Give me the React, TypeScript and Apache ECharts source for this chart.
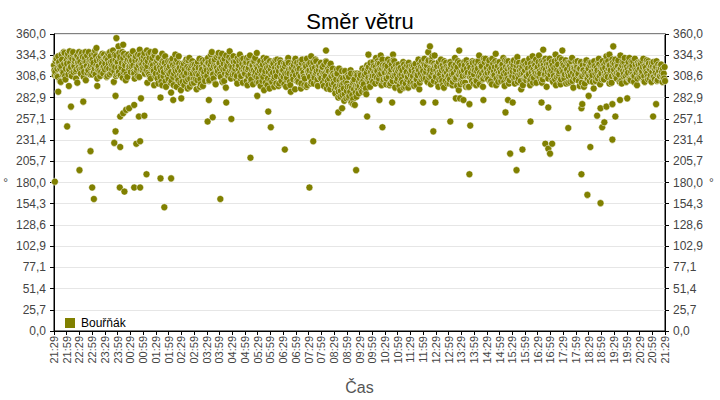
import React, { useEffect, useRef } from "react";
import * as echarts from "echarts";

// Time tick labels (every 30 minutes from 21:29 to 21:29 next day)
const timeLabels = [
  "21:29","21:59","22:29","22:59","23:29","23:59","00:29","00:59","01:29","01:59",
  "02:29","02:59","03:29","03:59","04:29","04:59","05:29","05:59","06:29","06:59",
  "07:29","07:59","08:29","08:59","09:29","09:59","10:29","10:59","11:29","11:59",
  "12:29","12:59","13:29","13:59","14:29","14:59","15:29","15:59","16:29","16:59",
  "17:29","17:59","18:29","18:59","19:29","19:59","20:29","20:59","21:29",
];

const yTickLabels = [
  "0,0","25,7","51,4","77,1","102,9","128,6","154,3","180,0",
  "205,7","231,4","257,1","282,9","308,6","334,3","360,0",
];

// Main band readings (degrees). Each array holds one reading every 3 minutes;
// array A starts at 21:29, B at 21:30, C at 21:31.
const bandA = [
  322,314,330,308,326,318,335,311,324,305,
  328,336,317,332,309,338,321,315,333,326,
  330,312,337,319,327,304,334,316,329,322,
  311,325,318,333,306,321,328,314,336,320,
  317,331,309,324,338,313,327,302,320,334,
  326,314,332,319,307,336,322,311,329,318,
  333,321,339,312,328,316,335,308,325,330,
  319,337,324,340,313,331,306,327,317,334,
  312,328,300,322,316,336,309,325,296,318,
  305,321,314,330,298,317,326,308,333,311,
  315,302,324,309,329,294,318,306,322,312,
  301,318,293,326,310,305,320,297,314,328,
  316,331,304,322,338,311,327,299,319,334,
  325,308,336,317,330,295,321,313,339,306,
  320,333,311,327,300,318,335,309,324,315,
  312,326,298,319,334,305,322,316,331,308,
  318,301,327,310,323,292,315,330,306,320,
  304,322,313,296,328,309,318,300,325,311,
  316,299,324,307,331,312,290,319,305,327,
  310,325,302,318,294,329,313,306,321,298,
  323,308,333,314,300,319,327,305,316,311,
  306,320,297,312,326,303,315,293,309,318,
  300,288,312,294,318,284,298,306,279,302,
  291,310,285,316,295,281,305,289,312,293,
  297,310,290,303,316,294,322,307,300,314,
  318,326,309,331,315,302,324,312,329,305,
  313,299,321,308,326,317,303,319,295,311,
  306,318,292,311,301,323,296,314,308,320,
  302,316,309,297,324,305,318,293,312,327,
  315,330,306,322,338,311,299,326,317,334,
  308,321,296,314,329,303,318,310,325,300,
  317,305,323,298,312,331,307,320,292,314,
  322,309,316,301,328,313,296,319,306,325,
  311,326,303,318,334,308,321,296,315,330,
  319,305,328,313,299,324,310,336,316,302,
  326,314,308,331,297,320,311,327,304,318,
  309,323,300,317,332,306,315,293,321,312,
  316,304,325,311,298,319,333,307,322,301,
  320,334,312,327,305,318,330,296,314,324,
  311,326,302,319,335,308,323,315,299,329,
  314,306,328,317,301,322,310,331,295,318,
  305,320,312,297,326,309,316,300,323,313,
  318,303,325,310,294,321,307,316,330,299,
  312,327,305,319,333,308,322,314,301,325,
  317,329,306,321,311,334,300,315,326,309,
  320,313,331,304,318,327,309,323,298,316,
  308,324,315,330,302,319,312,327,306,321,
  314,326,305,320,311,317,309,323,302,312,
  303,
];

const bandB = [
  316,327,309,333,320,302,329,313,337,318,
  324,311,339,320,330,314,327,306,334,319,
  317,335,323,308,331,326,313,338,320,328,
  329,314,340,322,317,331,309,326,319,335,
  324,308,329,318,333,322,340,315,328,311,
  319,337,310,325,331,316,304,327,335,321,
  314,328,322,306,333,319,327,341,317,323,
  328,312,329,321,336,308,324,331,315,339,
  325,306,331,319,302,327,314,333,321,308,
  318,327,303,322,312,335,296,316,324,301,
  309,320,298,327,313,305,331,317,300,323,
  316,305,322,313,330,299,317,325,307,320,
  309,325,314,335,318,306,329,321,312,337,
  318,331,302,324,312,334,309,327,316,329,
  311,326,318,305,331,322,313,329,301,320,
  325,303,317,330,311,322,299,327,314,320,
  312,323,297,316,308,327,301,319,325,294,
  317,302,324,308,314,329,297,321,306,316,
  308,321,296,313,325,302,318,311,322,293,
  319,304,312,327,300,316,308,323,296,314,
  311,325,302,318,309,329,315,297,322,307,
  315,301,323,309,294,318,306,324,299,312,
  310,296,317,283,304,291,315,300,287,308,
  300,283,296,312,286,303,274,297,310,288,
  306,292,318,299,311,287,305,320,296,309,
  309,321,300,316,327,306,318,298,322,314,
  322,306,329,314,300,323,309,327,316,303,
  315,297,319,305,326,310,300,322,295,312,
  310,322,300,317,305,312,329,301,320,308,
  306,322,314,302,328,318,309,333,303,321,
  316,300,326,311,306,322,295,315,320,308,
  309,326,314,302,321,305,316,327,311,299,
  314,301,326,310,318,296,322,311,303,317,
  320,304,315,327,299,323,312,306,326,311,
  308,325,316,303,330,311,320,298,325,313,
  317,303,323,312,328,306,318,300,321,309,
  315,328,308,322,302,325,311,318,298,327,
  322,309,318,330,305,314,301,325,312,319,
  313,308,322,301,326,310,317,323,306,330,
  320,304,313,327,298,316,309,331,305,319,
  322,311,300,325,309,314,327,303,319,310,
  316,327,303,318,308,322,296,313,328,306,
  310,322,314,302,327,312,319,306,323,315,
  305,318,323,310,314,327,300,316,309,321,
  324,308,313,328,302,318,322,309,331,316,
  311,326,305,314,322,309,330,316,306,323,
  318,309,327,303,321,314,308,324,317,302,
  320,308,317,327,304,315,322,311,318,306,
];

const bandC = [
  310,331,318,325,303,321,314,338,309,327,
  333,318,325,312,336,322,330,317,325,338,
  326,319,332,314,338,321,317,327,311,334,
  322,336,311,328,320,315,333,324,312,329,
  331,319,336,311,326,317,321,335,309,325,
  312,330,321,338,314,324,333,308,320,327,
  325,336,314,331,320,309,322,334,327,316,
  333,320,316,327,311,338,318,322,336,309,
  319,331,312,308,325,318,329,303,316,327,
  312,301,326,308,320,315,329,304,319,292,
  324,311,317,303,320,328,296,312,327,305,
  323,312,304,319,296,315,328,311,303,322,
  325,303,318,327,311,321,300,332,315,324,
  311,320,327,303,318,323,310,332,321,317,
  327,314,322,309,320,328,306,318,330,312,
  318,331,309,324,303,316,327,310,321,302,
  306,315,320,303,331,312,323,298,314,327,
  311,325,306,319,300,322,315,328,303,320,
  324,312,305,328,317,298,322,309,315,330,
  303,317,322,309,325,312,298,319,330,315,
  316,300,320,326,307,313,302,321,309,325,
  320,312,306,327,316,298,322,310,315,303,
  293,305,312,290,298,307,286,294,315,282,
  296,308,290,277,301,293,312,284,297,302,
  312,301,297,309,290,313,318,302,325,306,
  302,314,320,307,324,311,334,318,303,321,
  306,317,312,298,314,304,328,310,322,318,
  323,310,303,316,295,319,313,305,325,300,
  318,306,322,313,298,310,316,324,305,319,
  324,311,319,327,308,316,330,313,324,309,
  322,313,305,320,316,298,327,303,313,319,
  300,320,311,316,306,323,297,311,325,305,
  306,318,322,296,311,324,308,313,327,300,
  316,298,323,309,313,320,305,330,309,318,
  313,322,302,319,310,315,327,306,321,309,
  310,322,317,302,314,327,306,320,313,325,
  320,305,314,326,310,319,303,312,325,306,
  308,320,312,303,324,308,317,314,329,310,
  326,315,304,318,322,311,326,309,320,315,
  316,322,309,305,321,328,312,302,318,324,
  308,320,316,311,325,302,318,313,307,326,
  322,310,318,325,301,316,311,327,306,319,
  325,313,306,320,317,303,314,326,309,320,
  319,306,313,326,311,318,322,307,329,314,
  310,320,325,314,318,303,326,312,320,302,
  317,305,320,327,311,302,318,313,325,310,
  326,313,320,309,316,328,305,318,310,325,
  308,318,313,303,323,309,319,314,307,320,
];
const bandStepMinutes = 3;

// Scattered readings: [minutes after 21:29, degrees]
const outliers: [number, number][] = [
  [2,181],[10,290],[31,248],[35,297],[40,272],[55,301],[60,195],[69,278],[86,218],[90,174],
  [94,160],[100,343],[102,297],[142,228],[145,285],[145,242],[147,355],[152,345],[155,174],[156,223],
  [156,260],[163,264],[163,347],[166,169],[170,268],[177,270],[189,274],[189,174],[194,227],[200,260],
  [203,230],[203,174],[205,282],[213,261],[218,190],[220,301],[236,298],[251,283],[251,185],[255,298],
  [260,150],[276,185],[276,289],[281,280],[300,282],[362,254],[365,280],[374,259],[392,160],[406,277],
  [418,257],[463,210],[478,337],[479,285],[505,266],[511,247],[544,220],[602,174],[611,230],[641,340],
  [670,265],[679,270],[705,275],[712,195],[738,260],[741,335],[767,280],[774,247],[797,277],[799,335],
  [870,277],[886,345],[894,242],[899,277],[934,254],[947,282],[955,340],[957,282],[965,280],[979,190],
  [979,275],[981,249],[1012,280],[1064,265],[1070,280],[1075,215],[1081,277],[1090,195],[1104,220],[1123,254],
  [1149,277],[1153,341],[1158,227],[1165,271],[1165,221],[1169,215],[1174,227],[1198,340],[1212,246],[1243,190],
  [1243,270],[1245,275],[1257,165],[1260,285],[1264,223],[1280,261],[1288,155],[1288,270],[1292,247],[1297,253],
  [1302,272],[1309,335],[1316,275],[1316,232],[1318,345],[1323,260],[1334,280],[1351,282],[1412,260],[1419,275],
];

const seriesName = "Bouřňák";
const yStep = 360 / 14;
const FONT = "Liberation Sans, Arial, sans-serif";

export default function App() {
  const ref = useRef<HTMLDivElement>(null);
  useEffect(() => {
    if (!ref.current) return;
    const chart = echarts.init(ref.current, null, { renderer: "svg" });
    const points: [number, number][] = [];
    bandA.forEach((v, i) => points.push([i * bandStepMinutes, v]));
    bandB.forEach((v, i) => points.push([i * bandStepMinutes + 1, v]));
    bandC.forEach((v, i) => points.push([i * bandStepMinutes + 2, v]));
    const data = points.concat(outliers).sort((a, b) => a[0] - b[0]);
    const yAxisCommon = {
      type: "value" as const,
      min: 0,
      max: 360,
      interval: yStep,
      axisLine: { show: true, lineStyle: { color: "#000", width: 1 } },
      axisTick: { show: true, length: 4, lineStyle: { color: "#000" } },
      axisLabel: {
        color: "#444",
        fontSize: 12,
        fontFamily: FONT,
        formatter: (v: number) => yTickLabels[Math.round(v / yStep)] ?? "",
      },
      name: "°",
      nameLocation: "middle" as const,
      nameRotate: 0,
      nameTextStyle: { color: "#444", fontSize: 12, fontFamily: FONT },
    };
    chart.setOption({
      animation: false,
      backgroundColor: "#fff",
      title: {
        text: "Směr větru",
        left: "center",
        top: 5,
        textStyle: { color: "#000", fontSize: 22, fontWeight: "normal", fontFamily: FONT },
      },
      grid: { left: 54, right: 55, top: 34, bottom: 69, show: true, borderColor: "#000", borderWidth: 1, backgroundColor: "transparent" },
      legend: {
        left: 58,
        top: 311,
        icon: "rect",
        itemWidth: 12,
        itemHeight: 12,
        itemGap: 8,
        textStyle: { color: "#000", fontSize: 12, fontFamily: FONT },
        data: [seriesName],
      },
      xAxis: {
        type: "value",
        min: 0,
        max: 1440,
        interval: 30,
        name: "Čas",
        nameLocation: "middle",
        nameGap: 48,
        nameTextStyle: { color: "#555", fontSize: 16, fontFamily: FONT },
        axisLine: { show: true, onZero: false, lineStyle: { color: "#000", width: 1 } },
        axisTick: { show: true, length: 4, lineStyle: { color: "#000" } },
        splitLine: { show: false },
        axisLabel: {
          rotate: 90,
          color: "#444",
          fontSize: 11,
          margin: 5,
          fontFamily: FONT,
          formatter: (v: number) => timeLabels[Math.round(v / 30)] ?? "",
        },
      },
      yAxis: [
        {
          ...yAxisCommon,
          position: "left",
          nameGap: 46,
          splitLine: { show: true, lineStyle: { color: "#e6e6e6", width: 1 } },
        },
        {
          ...yAxisCommon,
          position: "right",
          nameGap: 30,
          splitLine: { show: false },
        },
      ],
      series: [
        {
          name: seriesName,
          type: "scatter",
          data,
          symbol: "circle",
          symbolSize: 7,
          itemStyle: { color: "#808000", borderColor: "#ffffff", borderWidth: 0.5, opacity: 1 },
          emphasis: { disabled: true },
        },
      ],
    });
    return () => chart.dispose();
  }, []);
  return <div ref={ref} style={{ width: 720, height: 400, position: "absolute", left: 0, top: 0 }} />;
}
